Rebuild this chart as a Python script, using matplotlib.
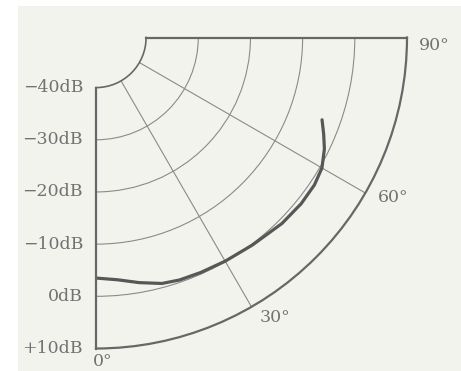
import numpy as np
import matplotlib
matplotlib.use("Agg")
import matplotlib.pyplot as plt
from matplotlib.patches import Rectangle

# level curve (angle in degrees, level in dB)
angles = [0, 5, 10, 15, 19, 24, 30, 37, 45, 51, 56, 60, 64, 67, 70]
levels = [-3.5, -3.0, -1.9, -0.8, -0.45, -0.3, -0.1, 0.2, 0.8, 1.0, 0.9, 0.4, -0.9, -2.2, -3.5]

db_ticks = [-40, -30, -20, -10, 0, 10]
db_labels = ["\u221240dB", "\u221230dB", "\u221220dB", "\u221210dB", "0dB", "+10dB"]
deg_ticks = [0, 30, 60, 90]
deg_labels = ["0\u00b0", "30\u00b0", "60\u00b0", "90\u00b0"]

paper = "#f3f3ee"
frame_col = "#676767"
grid_col = "#8a8a8a"
text_col = "#727272"
curve_col = "#575757"

fig = plt.figure(figsize=(4.61, 3.71), dpi=100, facecolor="white")
fig.patches.append(Rectangle((18 / 461, 0), 1, (371 - 6) / 371, transform=fig.transFigure,
                             facecolor=paper, edgecolor="none", zorder=-10))

ax = fig.add_axes([96 / 461, 22.5 / 371, 311 / 461, 311 / 371], projection="polar")
ax.set_facecolor("none")
ax.set_theta_zero_location("S")
ax.set_theta_direction(1)
ax.set_thetamin(0)
ax.set_thetamax(90)
ax.set_ylim(-40, 10)
ax.set_rorigin(-49.6)

ax.set_yticks(db_ticks[1:-1])
ax.set_yticklabels([])
ax.set_xticks(np.deg2rad(deg_ticks[1:-1]))
ax.set_xticklabels([])
ax.tick_params(length=0)
ax.grid(True, color=grid_col, linewidth=0.8)

for name in ["polar", "start", "end"]:
    ax.spines[name].set_color(frame_col)
    ax.spines[name].set_linewidth(1.6)
ax.spines["inner"].set_color(frame_col)
ax.spines["inner"].set_linewidth(1.2)

ax.plot(np.deg2rad(angles), levels, color=curve_col, linewidth=2.3, solid_capstyle="round")

font = dict(family="DejaVu Serif", fontsize=12.5, color=text_col)
for lvl, lbl in zip(db_ticks, db_labels):
    ax.annotate(lbl, xy=(0, lvl), xytext=(-13, 0), textcoords="offset pixels",
                ha="right", va="center", annotation_clip=False, **font)

deg_pos = [(1.2, 12.6), (32.6, 14.2), (61.7, 15.0), (88.6, 15.2)]
for (a, r), lbl in zip(deg_pos, deg_labels):
    ax.text(np.deg2rad(a), r, lbl, ha="center", va="center", **font)

fig.savefig("out.png", dpi=100, facecolor=fig.get_facecolor())
